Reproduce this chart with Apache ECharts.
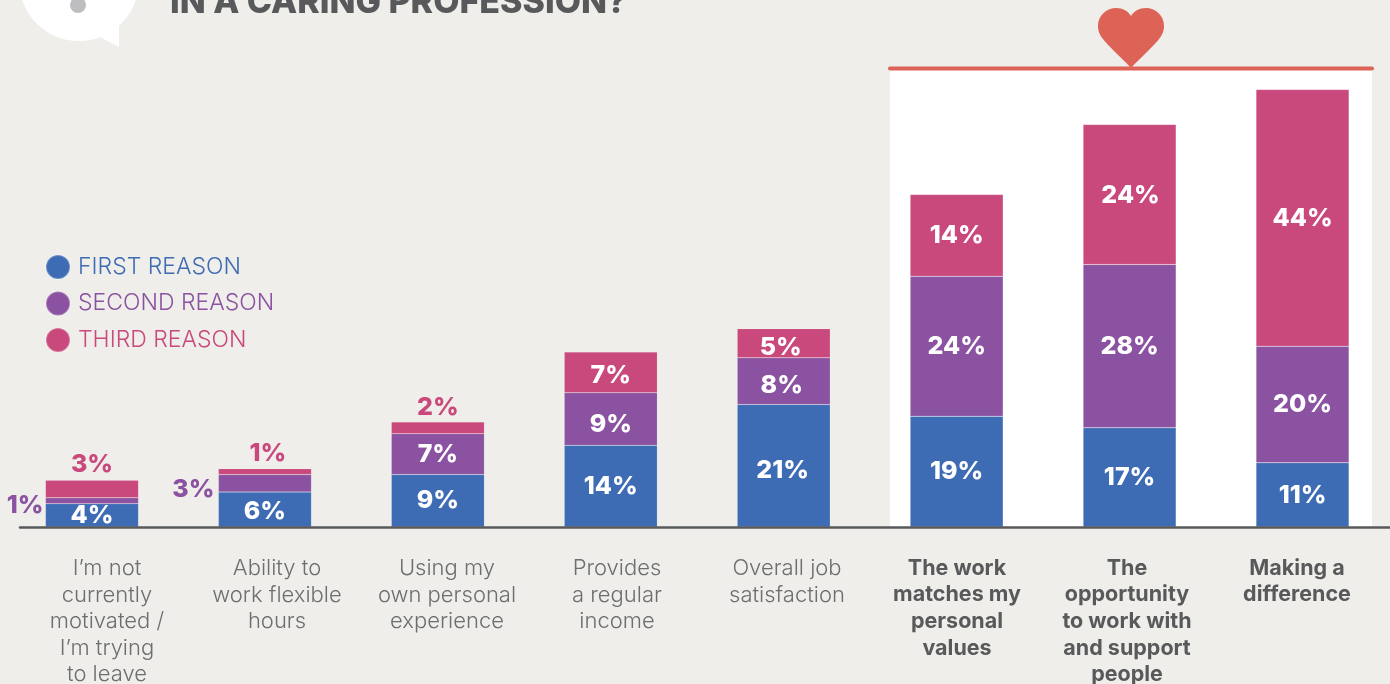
<!DOCTYPE html>
<html>
<head>
<meta charset="utf-8">
<style>
  html, body { margin: 0; padding: 0; background: #efeeea; }
  #chart { width: 1390px; height: 684px; }
</style>
<script src="https://cdn.jsdelivr.net/npm/echarts@6/dist/echarts.min.js"></script>
</head>
<body>
<div id="chart"></div>
<script>
const categories = [
  "I’m not\ncurrently\nmotivated /\nI’m trying\nto leave",
  "Ability to\nwork flexible\nhours",
  "Using my\nown personal\nexperience",
  "Provides\na regular\nincome",
  "Overall job\nsatisfaction",
  "The work\nmatches my\npersonal\nvalues",
  "The\nopportunity\nto work with\nand support\npeople",
  "Making a\ndifference"
];
const firstReason = [4, 6, 9, 14, 21, 19, 17, 11];
const secondReason = [1, 3, 7, 9, 8, 24, 28, 20];
const thirdReason = [3, 1, 2, 7, 5, 14, 24, 44];
const highlighted = ["The work\nmatches my\npersonal\nvalues", "The\nopportunity\nto work with\nand support\npeople", "Making a\ndifference"];

const FONT = 'Inter, "Noto Sans", sans-serif';
const BLUE = '#3e6cb4', PURPLE = '#8b52a1', PINK = '#c9497d', CORAL = '#dc6356';
const HEART = 'M33 60 C22 48 10 38 5 31 C1 26 0 22 0 18 C0 7 9 0 18 0 C25 0 30 3 33 8 C36 3 41 0 48 0 C57 0 66 7 66 18 C66 22 65 26 61 31 C56 38 44 48 33 60 Z';

// Hand placement of value labels, per bar, as [dx, dy] in pixels.
const FIRST_NUDGE = { 1: [0, 2], 4: [-1, 5], 7: [0, 1] };
const SECOND_NUDGE = { 0: [4, 5], 1: [2, 6], 3: [0, 5], 4: [-2, 4] };
const THIRD_NUDGE = { 0: [0, 1], 1: [3, 1], 2: [0, 2], 3: [0, 3], 4: [-3, 4], 6: [1, 1], 7: [0, 1] };

// Segments too thin to hold their value print it outside the bar in the series colour.
function segment(values, color, outsidePosition, minInside, nudge) {
  return values.map((v, i) => {
    const item = { value: v, label: { offset: nudge[i] || [0, 0] } };
    if (v < minInside) {
      item.label.position = outsidePosition;
      item.label.color = color;
      item.label.distance = outsidePosition === 'left' ? 6 : 4;
    }
    return item;
  });
}

function barSeries(name, values, color, outsidePosition, minInside, nudge) {
  return {
    name,
    type: 'bar',
    stack: 'reasons',
    barWidth: 93,
    xAxisIndex: 0,
    yAxisIndex: 0,
    data: segment(values, color, outsidePosition, minInside, nudge),
    itemStyle: { color, borderColor: 'rgba(255,255,255,0.25)', borderWidth: 0.5 },
    label: {
      show: true,
      position: 'inside',
      formatter: p => p.value + '%',
      fontFamily: FONT,
      fontWeight: 800,
      fontSize: 25,
      color: '#fff'
    }
  };
}

const chart = echarts.init(document.getElementById('chart'), null, { renderer: 'canvas' });

chart.setOption({
  backgroundColor: '#efeeea',
  animation: false,
  // the last labels run off the bottom edge, so the grids must not shrink to keep them in
  grid: [
    { left: 5.5, width: 1383.5, top: 2, height: 525, outerBoundsMode: 'none' },
    { left: 22, width: 1360, top: 2, height: 525, outerBoundsMode: 'none' },
    { left: 20, right: 0, top: 2, height: 525, outerBoundsMode: 'none' }
  ],
  legend: {
    left: 45,
    top: 254,
    padding: 0,
    orient: 'vertical',
    itemWidth: 24,
    itemHeight: 24,
    itemGap: 10.5,
    icon: 'circle',
    selectedMode: false,
    data: ['FIRST REASON', 'SECOND REASON', 'THIRD REASON'],
    textStyle: { color: 'inherit', fontFamily: FONT, fontWeight: 300, fontSize: 23, lineHeight: 24, padding: [0, 0, 0, 3] }
  },
  xAxis: [
    {
      type: 'category', gridIndex: 0, data: categories,
      axisLine: { show: false }, axisTick: { show: false }, axisLabel: { show: false }
    },
    {
      type: 'category', gridIndex: 1, data: categories,
      axisLine: { show: false }, axisTick: { show: false },
      axisLabel: {
        interval: 0,
        margin: 28,
        formatter: v => highlighted.includes(v)
          ? v.split('\n').map(l => '{b|' + l + '}').join('\n')
          : v.split('\n').map(l => '{n|' + l + '}').join('\n'),
        rich: {
          n: { fontFamily: FONT, fontWeight: 300, fontSize: 22, lineHeight: 26.6, color: '#6d6e70' },
          b: { fontFamily: FONT, fontWeight: 700, fontSize: 21.5, lineHeight: 26.6, color: '#58595b' }
        }
      }
    },
    {
      type: 'category', gridIndex: 2, data: [''],
      axisLine: { show: true, lineStyle: { color: '#58595b', width: 2.5 } },
      axisTick: { show: false }, axisLabel: { show: false }, z: 5
    }
  ],
  yAxis: [0, 1, 2].map(i => ({
    type: 'value', gridIndex: i, min: 0, max: 90, show: false
  })),
  series: [
    barSeries('FIRST REASON', firstReason, BLUE, 'inside', 0, FIRST_NUDGE),
    barSeries('SECOND REASON', secondReason, PURPLE, 'left', 4, SECOND_NUDGE),
    barSeries('THIRD REASON', thirdReason, PINK, 'top', 3.5, THIRD_NUDGE),
    {
      // heart sitting on the rule above the highlight panel
      type: 'custom',
      coordinateSystem: 'none',
      silent: true,
      z: 6,
      data: [0],
      renderItem: () => ({
        type: 'path',
        shape: { pathData: HEART, x: 1098, y: 8, width: 66, height: 60, layout: 'cover' },
        style: { fill: CORAL }
      })
    }
  ],
  graphic: [
    // highlight panel behind the three leading reasons
    { type: 'rect', z: -1, silent: true, shape: { x: 890, y: 69, width: 482, height: 458 }, style: { fill: '#fff' } },
    { type: 'line', z: 1, silent: true, shape: { x1: 890, y1: 68.5, x2: 1372, y2: 68.5 },
      style: { stroke: CORAL, lineWidth: 4, lineCap: 'round' } },
    // speech bubble beside the heading
    { type: 'circle', z: 1, silent: true, shape: { cx: 79, cy: -19, r: 60 }, style: { fill: '#fff' } },
    { type: 'polygon', z: 1, silent: true, shape: { points: [[98, 36], [119, 47], [119, 24]] }, style: { fill: '#fff' } },
    { type: 'circle', z: 2, silent: true, shape: { cx: 78, cy: 5, r: 8 }, style: { fill: '#bcbec0' } },
    { type: 'text', z: 2, silent: true, left: 170, top: -14,
      style: { text: 'IN A CARING PROFESSION?', fill: '#58595b', font: '800 34px ' + FONT } }
  ]
});
</script>
</body>
</html>
